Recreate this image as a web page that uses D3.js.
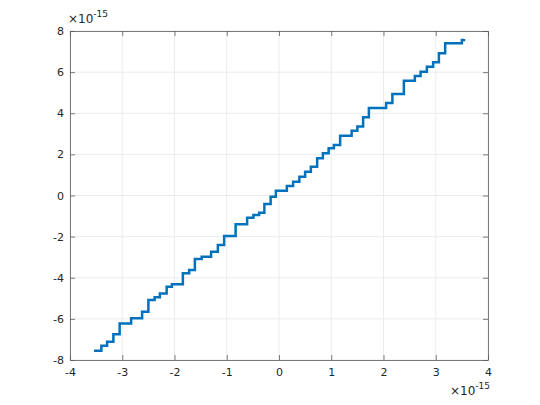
<!DOCTYPE html>
<html>
<head>
<meta charset="utf-8">
<script src="https://cdn.jsdelivr.net/npm/d3@7"></script>
<style>
  body { margin: 0; background: #fff; }
  text { font-family: "DejaVu Sans", sans-serif; }
</style>
</head>
<body>
<script>
// staircase vertices (x in 1e-15 units, level y held until next x)
var stepX = [-3.54, -3.40, -3.29, -3.17, -3.05, -2.83, -2.62, -2.50, -2.38, -2.28,
             -2.15, -2.05, -1.84, -1.72, -1.61, -1.48, -1.30, -1.17, -1.05, -0.83,
             -0.61, -0.49, -0.38, -0.28, -0.16, -0.06, 0.15, 0.27, 0.39, 0.50,
             0.61, 0.73, 0.84, 0.95, 1.05, 1.17, 1.39, 1.50, 1.61, 1.72,
             2.05, 2.17, 2.39, 2.60, 2.71, 2.83, 2.95, 3.06, 3.18, 3.50, 3.54];
var stepY = [-7.55, -7.31, -7.11, -6.75, -6.22, -5.97, -5.65, -5.08, -4.95, -4.76,
             -4.44, -4.32, -3.78, -3.62, -3.09, -2.98, -2.73, -2.41, -1.97, -1.40,
             -1.08, -0.95, -0.84, -0.41, -0.06, 0.23, 0.46, 0.67, 0.91, 1.16,
             1.40, 1.81, 2.05, 2.30, 2.46, 2.91, 3.15, 3.35, 3.80, 4.26,
             4.50, 4.94, 5.58, 5.81, 6.02, 6.26, 6.48, 6.92, 7.40, 7.56, 7.61];
var xTicks = [-4, -3, -2, -1, 0, 1, 2, 3, 4];
var yTicks = [-8, -6, -4, -2, 0, 2, 4, 6, 8];

var width = 540, height = 405;
var mLeft = 70, mRight = 488, mTop = 31, mBottom = 360;

var x = d3.scaleLinear().domain([-4, 4]).range([mLeft, mRight]);
var y = d3.scaleLinear().domain([-8, 8]).range([mBottom, mTop]);

var svg = d3.select("body").append("svg")
  .attr("width", width)
  .attr("height", height);

// grid
svg.append("g").selectAll("line").data(xTicks).enter().append("line")
  .attr("x1", function(d) { return x(d); })
  .attr("x2", function(d) { return x(d); })
  .attr("y1", mTop).attr("y2", mBottom)
  .style("stroke", "#ebebeb").style("stroke-width", 1);
svg.append("g").selectAll("line").data(yTicks).enter().append("line")
  .attr("y1", function(d) { return y(d); })
  .attr("y2", function(d) { return y(d); })
  .attr("x1", mLeft).attr("x2", mRight)
  .style("stroke", "#ebebeb").style("stroke-width", 1);

// axes, ticks inward on all sides
var axisColor = "#262626";
var fmt = function(d) { return String(d); };
var bottomAxis = svg.append("g").attr("transform", "translate(0," + mBottom + ")")
  .call(d3.axisBottom(x).tickValues(xTicks).tickFormat(fmt).tickSizeInner(-5).tickSizeOuter(0).tickPadding(8));
var topAxis = svg.append("g").attr("transform", "translate(0," + mTop + ")")
  .call(d3.axisTop(x).tickValues(xTicks).tickSizeInner(-5).tickSizeOuter(0).tickFormat(""));
var leftAxis = svg.append("g").attr("transform", "translate(" + mLeft + ",0)")
  .call(d3.axisLeft(y).tickValues(yTicks).tickFormat(fmt).tickSizeInner(-5).tickSizeOuter(0).tickPadding(6));
var rightAxis = svg.append("g").attr("transform", "translate(" + mRight + ",0)")
  .call(d3.axisRight(y).tickValues(yTicks).tickSizeInner(-5).tickSizeOuter(0).tickFormat(""));

[bottomAxis, topAxis, leftAxis, rightAxis].forEach(function(g) {
  g.selectAll("path").style("stroke", "#5a5a5a").style("stroke-width", 0.8);
  g.selectAll("line").style("stroke", "#5a5a5a").style("stroke-width", 0.8);
  g.selectAll("text").style("fill", axisColor).style("font-size", "11px")
    .style("font-family", "DejaVu Sans, sans-serif");
});

// staircase line
var pts = stepX.map(function(d, i) { return [d, stepY[i]]; });
var line = d3.line()
  .x(function(d) { return x(d[0]); })
  .y(function(d) { return y(d[1]); })
  .curve(d3.curveStepAfter);

svg.append("path")
  .datum(pts)
  .attr("d", line)
  .style("fill", "none")
  .style("stroke", "#0072BD")
  .style("stroke-width", 2.5)
  .style("stroke-linejoin", "miter");

// exponent labels
function expLabel(xPos, yPos, anchor) {
  var t = svg.append("text")
    .attr("x", xPos).attr("y", yPos)
    .attr("text-anchor", anchor)
    .style("fill", axisColor)
    .style("font-size", "12px");
  t.append("tspan").text("\u00d710");
  t.append("tspan").attr("dy", -6).style("font-size", "9px").text("-15");
}
expLabel(68, 23, "start");
expLabel(490, 395, "end");
</script>
</body>
</html>
